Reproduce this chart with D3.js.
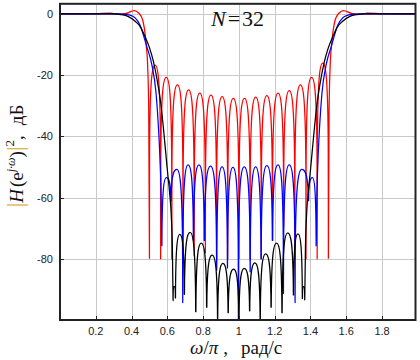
<!DOCTYPE html>
<html><head><meta charset="utf-8">
<script src="https://cdn.jsdelivr.net/npm/d3@7"></script>
<style>html,body{margin:0;padding:0;background:#fff}</style>
</head><body><svg id="c" width="420" height="360"></svg>
<script>
// ---------- data ----------
const xTicks = [0.2, 0.4, 0.6, 0.8, 1.0, 1.2, 1.4, 1.6, 1.8];
const xTickLabels = ["0.2", "0.4", "0.6", "0.8", "1", "1.2", "1.4", "1.6", "1.8"];
const yTicks = [0, -20, -40, -60, -80];
const yTickLabels = ["0", "-20", "-40", "-60", "-80"];

// red series
const redLeft = [[0,0],[0.1,0],[0.2,0.05],[0.28,0.25],[0.33,-0.15],[0.37,0.15],[0.415,1.1],[0.44,0.3],[0.462,-2],[0.481,-9.6],[0.49,-17],[0.496,-32],[0.5,-80]];
const redNullX = [0.5,0.5625,0.625,0.6875,0.75,0.8125,0.875,0.9375,1.0,1.0625,1.125,1.1875,1.25,1.3125,1.375,1.4375,1.5];
const redNullDb = [-80,-80,-80,-80,-79,-78,-80,-80,-80,-80,-80,-74,-69.5,-80,-80,-80,-80];
const redPeakDb = [-16.7,-20.7,-23.2,-24.8,-25.9,-26.5,-27.0,-27.6,-27.6,-27.2,-26.7,-25.9,-25.1,-23.2,-20.7,-16.1];
const redRight = [[1.5,-80],[1.504,-32],[1.51,-17],[1.519,-9.6],[1.538,-2],[1.56,0.3],[1.585,1.1],[1.63,0.15],[1.67,-0.15],[1.72,0.25],[1.8,0.05],[1.9,0],[2,0]];

// blue series
const blueLeft = [[0,0],[0.33,0],[0.36,-0.1],[0.39,-0.4],[0.42,-1.3],[0.447,-3.6],[0.485,-10.7],[0.513,-16.5],[0.537,-25.9],[0.55,-36.8],[0.559,-47.7],[0.565,-58.6],[0.569,-75.8]];
const blueNullX = [0.569,0.62,0.686,0.746,0.807,0.876,0.936,0.997,1.063,1.124,1.188,1.249,1.314,1.389,1.432];
const blueNullDb = [-75.8,-61,-94.3,-73.9,-74,-83.7,-83,-100,-84.2,-80,-74,-91.3,-94.3,-61,-75.8];
const bluePeakDb = [-53.5,-50.8,-49.3,-49.3,-49.7,-50,-50.1,-50,-50,-49.6,-49.3,-49.3,-50.8,-53.5];
const blueRight = [[1.432,-75.8],[1.436,-58.6],[1.442,-47.7],[1.451,-36.8],[1.464,-25.9],[1.488,-16.5],[1.516,-10.7],[1.553,-3.6],[1.58,-1.3],[1.61,-0.4],[1.64,-0.1],[1.67,0],[2,0]];

// black series
const blackLeft = [[0,0],[0.3,0],[0.34,-0.2],[0.38,-0.8],[0.42,-2.4],[0.45,-4.3],[0.475,-7.4],[0.5,-11],[0.522,-15.5],[0.55,-24],[0.565,-30],[0.58,-38.5],[0.6,-51],[0.612,-58],[0.622,-66],[0.628,-76],[0.632,-93.7]];
const blackNullX = [0.632,0.645,0.695,0.759,0.82,0.881,0.94,1.0,1.06,1.119,1.18,1.241,1.305,1.355,1.368];
const blackNullDb = [-93.7,-92.8,-91.6,-97.3,-95.8,-99.5,-97.6,-100,-97,-99.8,-95.8,-97.6,-91.8,-93,-93.5];
const blackPeakDb = [-89,-72,-71.4,-74.9,-78.8,-81.5,-83.4,-83.1,-81.3,-78.4,-74.9,-71.5,-71.9,-89];
const blackRight = [[1.368,-93.5],[1.372,-76],[1.378,-66],[1.388,-58],[1.4,-51],[1.42,-38.5],[1.435,-30],[1.45,-24],[1.478,-15.5],[1.5,-11],[1.525,-7.4],[1.55,-4.3],[1.58,-2.4],[1.62,-0.8],[1.66,-0.2],[1.7,0],[2,0]];

// ---------- drawing ----------
const svg = d3.select("#c");
const x = d3.scaleLinear().domain([0, 1.987]).range([60, 415.5]);
const y = d3.scaleLinear().domain([3.3, -100]).range([3.8, 320]);
const [x0, x1] = x.range();
const [y0, y1] = y.range();

svg.append("rect").attr("width", 420).attr("height", 360).attr("fill", "#fff");

svg.append("defs").append("clipPath").attr("id", "clip")
  .append("rect").attr("x", x0).attr("y", y0).attr("width", x1 - x0).attr("height", y1 - y0);

// grid
const grid = svg.append("g").attr("stroke", "#c8c8c8").attr("stroke-width", 1);
grid.selectAll("line.v").data(xTicks).join("line")
  .attr("x1", d => Math.round(x(d)) + 0.5).attr("x2", d => Math.round(x(d)) + 0.5)
  .attr("y1", y0).attr("y2", y1);
grid.selectAll("line.h").data(yTicks).join("line")
  .attr("y1", d => Math.round(y(d)) + 0.5).attr("y2", d => Math.round(y(d)) + 0.5)
  .attr("x1", x0).attr("x2", x1);

// curves
const lineGen = d3.line().x(d => x(d[0])).y(d => y(d[1])).curve(d3.curveMonotoneX);
function lobes(p, nx, nd, pk) {
  const D = y(-30) - y(0);
  p.moveTo(x(nx[0]), y(nd[0]));
  for (let i = 0; i < pk.length; i++) {
    const xa = x(nx[i]), xb = x(nx[i + 1]);
    const ya = y(nd[i]), yb = y(nd[i + 1]);
    const xm = (xa + xb) / 2, yp = y(pk[i]), h = xm - xa;
    const da = Math.min(D, ya - yp), db = Math.min(D, yb - yp);
    p.lineTo(xa + 0.02 * h, yp + da);
    p.bezierCurveTo(xa + 0.06 * h, yp + da * 0.133, xm - 0.5 * h, yp, xm, yp);
    p.bezierCurveTo(xm + 0.5 * h, yp, xb - 0.06 * h, yp + db * 0.133, xb - 0.02 * h, yp + db);
    p.lineTo(xb, yb);
  }
}
function seriesPath(left, nx, nd, pk, right) {
  const p = d3.path();
  lineGen.context(p)(left);
  lobes(p, nx, nd, pk);
  lineGen.context(p)(right);
  lineGen.context(null);
  return p.toString();
}
const series = [
  {name: "red", color: "#ff0000", d: seriesPath(redLeft, redNullX, redNullDb, redPeakDb, redRight)},
  {name: "blue", color: "#0000ff", d: seriesPath(blueLeft, blueNullX, blueNullDb, bluePeakDb, blueRight)},
  {name: "black", color: "#000000", d: seriesPath(blackLeft, blackNullX, blackNullDb, blackPeakDb, blackRight)}
];
svg.append("g").attr("clip-path", "url(#clip)")
  .selectAll("path").data(series).join("path")
  .attr("d", d => d.d).attr("fill", "none").attr("stroke", d => d.color)
  .attr("stroke-width", 1.25).attr("stroke-linejoin", "round");

// inner ticks
const tk = svg.append("g").attr("stroke", "#222").attr("stroke-width", 1);
tk.selectAll("line.xt").data(xTicks).join("line")
  .attr("x1", d => Math.round(x(d)) + 0.5).attr("x2", d => Math.round(x(d)) + 0.5)
  .attr("y1", y1).attr("y2", y1 - 4);
tk.selectAll("line.yt").data(yTicks).join("line")
  .attr("y1", d => Math.round(y(d)) + 0.5).attr("y2", d => Math.round(y(d)) + 0.5)
  .attr("x1", x0).attr("x2", x0 + 4);

// frame
svg.append("rect").attr("x", x0).attr("y", y0).attr("width", x1 - x0).attr("height", y1 - y0)
  .attr("fill", "none").attr("stroke", "#222").attr("stroke-width", 2);

// tick labels
const sans = "'Liberation Sans', Arial, sans-serif";
svg.append("g").selectAll("text").data(xTicks).join("text")
  .attr("x", d => x(d)).attr("y", 335).attr("text-anchor", "middle")
  .style("font-family", sans).style("font-size", "11px").attr("fill", "#222")
  .text((d, i) => xTickLabels[i]);
svg.append("g").selectAll("text").data(yTicks).join("text")
  .attr("x", 53).attr("y", d => y(d) + 4).attr("text-anchor", "end")
  .style("font-family", sans).style("font-size", "11px").attr("fill", "#222")
  .text((d, i) => yTickLabels[i]);

const serif = "'Liberation Serif', 'Times New Roman', serif";
// title N = 32
const t = svg.append("text").attr("x", 211).attr("y", 26)
  .style("font-family", serif).style("font-size", "22px").attr("fill", "#111");
t.append("tspan").style("font-style", "italic").text("N");
t.append("tspan").attr("dx", 2).text("=");
t.append("tspan").attr("dx", 2).text("32");

// x axis title
const xt = svg.append("text").attr("x", 190).attr("y", 354)
  .style("font-family", serif).style("font-size", "19px").attr("fill", "#111");
xt.append("tspan").style("font-style", "italic").text("ω");
xt.append("tspan").text("/");
xt.append("tspan").style("font-style", "italic").text("π");
xt.append("tspan").attr("dx", 5).text(",");
xt.append("tspan").attr("dx", 13).text("рад/с");

// y axis title
const orange = "#dba21c";
const yl = svg.append("text").attr("transform", "translate(23,156) rotate(-90)")
  .attr("text-anchor", "middle")
  .style("font-family", serif).style("font-size", "19px").attr("fill", "#111");
yl.append("tspan").attr("fill", orange).style("font-size", "23px").text("|");
yl.append("tspan").style("font-style", "italic").text("H");
yl.append("tspan").attr("dx", 2).text("(e");
yl.append("tspan").attr("dy", -8).style("font-size", "12px").style("font-style", "italic").text("j·ω");
yl.append("tspan").attr("dy", 8).text(")");
yl.append("tspan").attr("fill", orange).style("font-size", "23px").text("|");
yl.append("tspan").attr("dy", -9).style("font-size", "13px").text("2");
yl.append("tspan").attr("dy", 9).text(",");
yl.append("tspan").attr("dx", 10).text("дБ");
</script></body></html>
